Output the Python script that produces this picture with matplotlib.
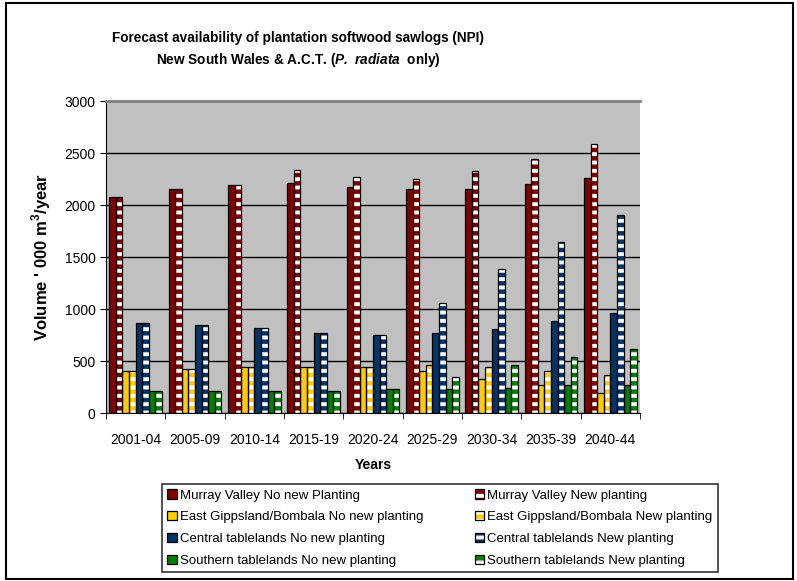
import numpy as np
import matplotlib.pyplot as plt
from matplotlib.patches import Rectangle
from matplotlib.legend_handler import HandlerTuple

plt.rcParams['font.family'] = ['Liberation Sans', 'DejaVu Sans']
plt.rcParams['mathtext.fontset'] = 'custom'
plt.rcParams['mathtext.rm'] = 'Liberation Sans'
plt.rcParams['mathtext.bf'] = 'Liberation Sans:bold'
plt.rcParams['mathtext.bfit'] = 'Liberation Sans:bold:italic'
plt.rcParams['hatch.linewidth'] = 2.8

years = ['2001-04', '2005-09', '2010-14', '2015-19', '2020-24',
         '2025-29', '2030-34', '2035-39', '2040-44']

murray_no = [2080, 2155, 2195, 2210, 2175, 2155, 2155, 2205, 2265]
murray_new = [2080, 2155, 2195, 2335, 2270, 2255, 2330, 2440, 2590]
gipps_no = [405, 420, 445, 445, 440, 400, 325, 270, 190]
gipps_new = [405, 420, 445, 445, 440, 460, 445, 400, 365]
central_no = [862, 845, 815, 770, 748, 770, 812, 885, 960]
central_new = [862, 845, 815, 770, 748, 1058, 1385, 1645, 1900]
southern_no = [208, 208, 212, 208, 230, 230, 245, 268, 268]
southern_new = [208, 208, 212, 208, 230, 345, 458, 537, 620]

series = [
    ('Murray Valley No new Planting', murray_no, '#800000', False),
    ('Murray Valley New planting', murray_new, '#800000', True),
    ('East Gippsland/Bombala No new planting', gipps_no, '#FFCC00', False),
    ('East Gippsland/Bombala New planting', gipps_new, '#FFCC00', True),
    ('Central tablelands No new planting', central_no, '#003366', False),
    ('Central tablelands New planting', central_new, '#003366', True),
    ('Southern tablelands No new planting', southern_no, '#008000', False),
    ('Southern tablelands New planting', southern_new, '#008000', True),
]

fig = plt.figure(figsize=(7.97, 5.81), dpi=100)
ax = fig.add_axes([0.133, 0.289, 0.670, 0.537])
ax.set_facecolor('#C0C0C0')

x = np.arange(len(years))
w = 1.0 / (len(series) + 1.0)
handles = {}
for i, (name, vals, col, new) in enumerate(series):
    pos = x + (i - 3.5) * w
    if new:
        fill = ax.bar(pos, vals, w, color=col, edgecolor='white', lw=0,
                      hatch='--', zorder=2)
    else:
        fill = ax.bar(pos, vals, w, color=col, lw=0, zorder=2)
    edge = ax.bar(pos, vals, w, facecolor='none', edgecolor='black',
                  lw=0.9, zorder=3)
    handles[name] = (fill, edge)

ax.set_xlim(-0.5, len(years) - 0.5)
ax.set_ylim(0, 3000)
ax.set_yticks(range(0, 3001, 500))
ax.yaxis.grid(True, color='black', lw=1)
ax.set_axisbelow(True)
ax.set_xticks(x)
ax.set_xticklabels(years, fontsize=10)
ax.set_xticks(np.arange(-0.5, len(years)), minor=True)
ax.tick_params(axis='x', which='major', length=0, pad=14)
ax.tick_params(axis='x', which='minor', length=4, direction='out')
ax.tick_params(axis='y', labelsize=10, length=4, direction='out')
ax.spines['right'].set_visible(False)
ax.spines['top'].set_color('#808080')
ax.spines['top'].set_linewidth(2)

ax.set_xlabel('Years', fontsize=10, fontweight='bold', labelpad=8)
ax.set_ylabel(r"Volume ' 000 m$^{\mathbf{3}}$/year", fontsize=12,
              fontweight='bold', labelpad=8)

fig.text(0.374, 0.934, 'Forecast availability of plantation softwood sawlogs (NPI)',
         ha='center', va='center', fontsize=9.8, fontweight='bold')
fig.text(0.374, 0.896, r'New South Wales & A.C.T. ($\mathbfit{P.\ radiata}$  only)',
         ha='center', va='center', fontsize=9.8, fontweight='bold')

order = [s[0] for s in series[0::2]] + [s[0] for s in series[1::2]]
leg = fig.legend([handles[n] for n in order], order, ncol=2,
                 loc='center', bbox_to_anchor=(0.552, 0.091), fontsize=9.5,
                 frameon=True, fancybox=False, edgecolor='black',
                 handlelength=0.7, handleheight=0.7, handletextpad=0.25,
                 columnspacing=3.9, labelspacing=0.72, borderpad=0.4,
                 handler_map={tuple: HandlerTuple(ndivide=1)})
leg.get_frame().set_linewidth(1.2)

fig.add_artist(Rectangle((0.008, 0.004), 0.987, 0.99, transform=fig.transFigure,
                         fill=False, ec='black', lw=1.5))

fig.savefig('out.png', dpi=100)
